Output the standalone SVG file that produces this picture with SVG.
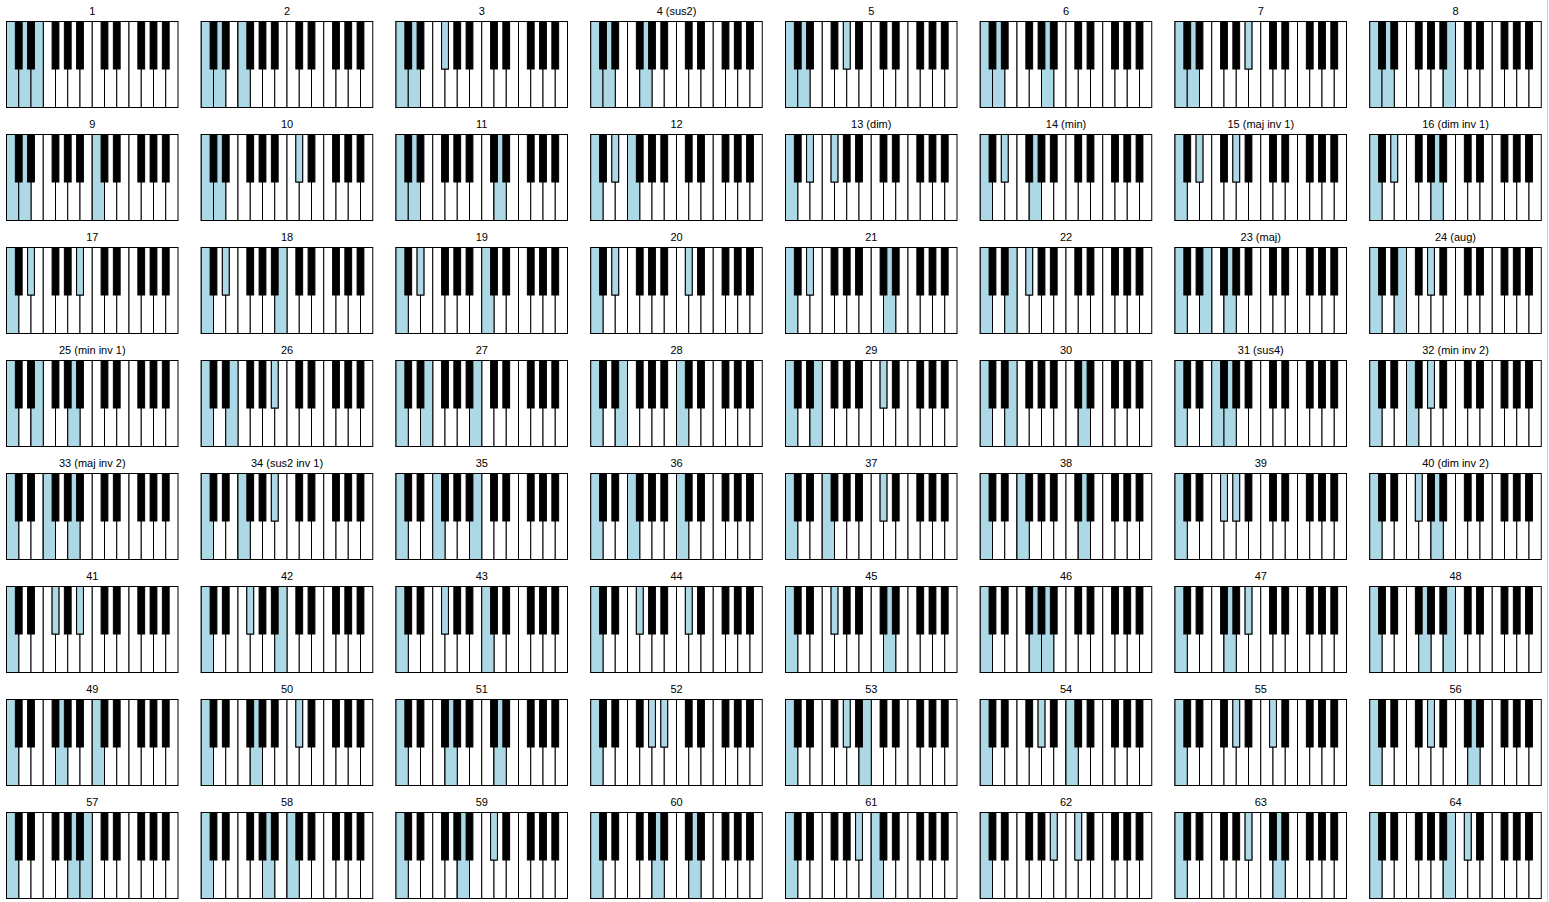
<svg xmlns="http://www.w3.org/2000/svg" xmlns:xlink="http://www.w3.org/1999/xlink" width="1549" height="902" viewBox="0 0 1549 902">
<style>
text{font-family:"Liberation Sans",Arial,sans-serif;font-size:11px;text-anchor:middle;fill:#000}
.w{fill:#fff;stroke:#000;stroke-width:1}
.b{fill:#000;stroke:#000;stroke-width:1}
.hw,.hb{fill:#add8e6;stroke:#000;stroke-width:1}
</style>
<defs>
<g id="wk">
<rect class="w" x="0" y="0" width="12.25" height="86"/><rect class="w" x="12.25" y="0" width="12.25" height="86"/><rect class="w" x="24.5" y="0" width="12.25" height="86"/><rect class="w" x="36.75" y="0" width="12.25" height="86"/><rect class="w" x="49" y="0" width="12.25" height="86"/><rect class="w" x="61.25" y="0" width="12.25" height="86"/><rect class="w" x="73.5" y="0" width="12.25" height="86"/><rect class="w" x="85.75" y="0" width="12.25" height="86"/><rect class="w" x="98" y="0" width="12.25" height="86"/><rect class="w" x="110.25" y="0" width="12.25" height="86"/><rect class="w" x="122.5" y="0" width="12.25" height="86"/><rect class="w" x="134.75" y="0" width="12.25" height="86"/><rect class="w" x="147" y="0" width="12.25" height="86"/><rect class="w" x="159.25" y="0" width="12.25" height="86"/>
</g>
<g id="bk">
<rect class="b" x="8.85" y="0" width="6.8" height="47.5"/><rect class="b" x="21.1" y="0" width="6.8" height="47.5"/><rect class="b" x="45.6" y="0" width="6.8" height="47.5"/><rect class="b" x="57.85" y="0" width="6.8" height="47.5"/><rect class="b" x="70.1" y="0" width="6.8" height="47.5"/><rect class="b" x="94.6" y="0" width="6.8" height="47.5"/><rect class="b" x="106.85" y="0" width="6.8" height="47.5"/><rect class="b" x="131.35" y="0" width="6.8" height="47.5"/><rect class="b" x="143.6" y="0" width="6.8" height="47.5"/><rect class="b" x="155.85" y="0" width="6.8" height="47.5"/>
</g>
<rect id="W" class="hw" x="0" y="0" width="12.25" height="86"/>
<rect id="B" class="hb" x="0" y="0" width="6.8" height="47.5"/>
</defs>
<line x1="1547.5" y1="0" x2="1547.5" y2="902" stroke="#d0d0d0" stroke-width="1"/>

<g id="k1" transform="translate(6.5,21.5)"><text x="85.75" y="-6.5">1</text><use href="#wk"/><use href="#W"/><use href="#W" x="12.25"/><use href="#W" x="24.5"/><use href="#bk"/></g>
<g id="k2" transform="translate(201.25,21.5)"><text x="85.75" y="-6.5">2</text><use href="#wk"/><use href="#W"/><use href="#W" x="12.25"/><use href="#W" x="36.75"/><use href="#bk"/></g>
<g id="k3" transform="translate(396,21.5)"><text x="85.75" y="-6.5">3</text><use href="#wk"/><use href="#W"/><use href="#W" x="12.25"/><use href="#bk"/><use href="#B" x="45.6"/></g>
<g id="k4" transform="translate(590.75,21.5)"><text x="85.75" y="-6.5">4 (sus2)</text><use href="#wk"/><use href="#W"/><use href="#W" x="12.25"/><use href="#W" x="49"/><use href="#bk"/></g>
<g id="k5" transform="translate(785.5,21.5)"><text x="85.75" y="-6.5">5</text><use href="#wk"/><use href="#W"/><use href="#W" x="12.25"/><use href="#bk"/><use href="#B" x="57.85"/></g>
<g id="k6" transform="translate(980.25,21.5)"><text x="85.75" y="-6.5">6</text><use href="#wk"/><use href="#W"/><use href="#W" x="12.25"/><use href="#W" x="61.25"/><use href="#bk"/></g>
<g id="k7" transform="translate(1175,21.5)"><text x="85.75" y="-6.5">7</text><use href="#wk"/><use href="#W"/><use href="#W" x="12.25"/><use href="#bk"/><use href="#B" x="70.1"/></g>
<g id="k8" transform="translate(1369.75,21.5)"><text x="85.75" y="-6.5">8</text><use href="#wk"/><use href="#W"/><use href="#W" x="12.25"/><use href="#W" x="73.5"/><use href="#bk"/></g>

<g id="k9" transform="translate(6.5,134.5)"><text x="85.75" y="-6.5">9</text><use href="#wk"/><use href="#W"/><use href="#W" x="12.25"/><use href="#W" x="85.75"/><use href="#bk"/></g>
<g id="k10" transform="translate(201.25,134.5)"><text x="85.75" y="-6.5">10</text><use href="#wk"/><use href="#W"/><use href="#W" x="12.25"/><use href="#bk"/><use href="#B" x="94.6"/></g>
<g id="k11" transform="translate(396,134.5)"><text x="85.75" y="-6.5">11</text><use href="#wk"/><use href="#W"/><use href="#W" x="12.25"/><use href="#W" x="98"/><use href="#bk"/></g>
<g id="k12" transform="translate(590.75,134.5)"><text x="85.75" y="-6.5">12</text><use href="#wk"/><use href="#W"/><use href="#W" x="36.75"/><use href="#bk"/><use href="#B" x="21.1"/></g>
<g id="k13" transform="translate(785.5,134.5)"><text x="85.75" y="-6.5">13 (dim)</text><use href="#wk"/><use href="#W"/><use href="#bk"/><use href="#B" x="21.1"/><use href="#B" x="45.6"/></g>
<g id="k14" transform="translate(980.25,134.5)"><text x="85.75" y="-6.5">14 (min)</text><use href="#wk"/><use href="#W"/><use href="#W" x="49"/><use href="#bk"/><use href="#B" x="21.1"/></g>
<g id="k15" transform="translate(1175,134.5)"><text x="85.75" y="-6.5">15 (maj inv 1)</text><use href="#wk"/><use href="#W"/><use href="#bk"/><use href="#B" x="21.1"/><use href="#B" x="57.85"/></g>
<g id="k16" transform="translate(1369.75,134.5)"><text x="85.75" y="-6.5">16 (dim inv 1)</text><use href="#wk"/><use href="#W"/><use href="#W" x="61.25"/><use href="#bk"/><use href="#B" x="21.1"/></g>

<g id="k17" transform="translate(6.5,247.5)"><text x="85.75" y="-6.5">17</text><use href="#wk"/><use href="#W"/><use href="#bk"/><use href="#B" x="21.1"/><use href="#B" x="70.1"/></g>
<g id="k18" transform="translate(201.25,247.5)"><text x="85.75" y="-6.5">18</text><use href="#wk"/><use href="#W"/><use href="#W" x="73.5"/><use href="#bk"/><use href="#B" x="21.1"/></g>
<g id="k19" transform="translate(396,247.5)"><text x="85.75" y="-6.5">19</text><use href="#wk"/><use href="#W"/><use href="#W" x="85.75"/><use href="#bk"/><use href="#B" x="21.1"/></g>
<g id="k20" transform="translate(590.75,247.5)"><text x="85.75" y="-6.5">20</text><use href="#wk"/><use href="#W"/><use href="#bk"/><use href="#B" x="21.1"/><use href="#B" x="94.6"/></g>
<g id="k21" transform="translate(785.5,247.5)"><text x="85.75" y="-6.5">21</text><use href="#wk"/><use href="#W"/><use href="#W" x="98"/><use href="#bk"/><use href="#B" x="21.1"/></g>
<g id="k22" transform="translate(980.25,247.5)"><text x="85.75" y="-6.5">22</text><use href="#wk"/><use href="#W"/><use href="#W" x="24.5"/><use href="#bk"/><use href="#B" x="45.6"/></g>
<g id="k23" transform="translate(1175,247.5)"><text x="85.75" y="-6.5">23 (maj)</text><use href="#wk"/><use href="#W"/><use href="#W" x="24.5"/><use href="#W" x="49"/><use href="#bk"/></g>
<g id="k24" transform="translate(1369.75,247.5)"><text x="85.75" y="-6.5">24 (aug)</text><use href="#wk"/><use href="#W"/><use href="#W" x="24.5"/><use href="#bk"/><use href="#B" x="57.85"/></g>

<g id="k25" transform="translate(6.5,360.5)"><text x="85.75" y="-6.5">25 (min inv 1)</text><use href="#wk"/><use href="#W"/><use href="#W" x="24.5"/><use href="#W" x="61.25"/><use href="#bk"/></g>
<g id="k26" transform="translate(201.25,360.5)"><text x="85.75" y="-6.5">26</text><use href="#wk"/><use href="#W"/><use href="#W" x="24.5"/><use href="#bk"/><use href="#B" x="70.1"/></g>
<g id="k27" transform="translate(396,360.5)"><text x="85.75" y="-6.5">27</text><use href="#wk"/><use href="#W"/><use href="#W" x="24.5"/><use href="#W" x="73.5"/><use href="#bk"/></g>
<g id="k28" transform="translate(590.75,360.5)"><text x="85.75" y="-6.5">28</text><use href="#wk"/><use href="#W"/><use href="#W" x="24.5"/><use href="#W" x="85.75"/><use href="#bk"/></g>
<g id="k29" transform="translate(785.5,360.5)"><text x="85.75" y="-6.5">29</text><use href="#wk"/><use href="#W"/><use href="#W" x="24.5"/><use href="#bk"/><use href="#B" x="94.6"/></g>
<g id="k30" transform="translate(980.25,360.5)"><text x="85.75" y="-6.5">30</text><use href="#wk"/><use href="#W"/><use href="#W" x="24.5"/><use href="#W" x="98"/><use href="#bk"/></g>
<g id="k31" transform="translate(1175,360.5)"><text x="85.75" y="-6.5">31 (sus4)</text><use href="#wk"/><use href="#W"/><use href="#W" x="36.75"/><use href="#W" x="49"/><use href="#bk"/></g>
<g id="k32" transform="translate(1369.75,360.5)"><text x="85.75" y="-6.5">32 (min inv 2)</text><use href="#wk"/><use href="#W"/><use href="#W" x="36.75"/><use href="#bk"/><use href="#B" x="57.85"/></g>

<g id="k33" transform="translate(6.5,473.5)"><text x="85.75" y="-6.5">33 (maj inv 2)</text><use href="#wk"/><use href="#W"/><use href="#W" x="36.75"/><use href="#W" x="61.25"/><use href="#bk"/></g>
<g id="k34" transform="translate(201.25,473.5)"><text x="85.75" y="-6.5">34 (sus2 inv 1)</text><use href="#wk"/><use href="#W"/><use href="#W" x="36.75"/><use href="#bk"/><use href="#B" x="70.1"/></g>
<g id="k35" transform="translate(396,473.5)"><text x="85.75" y="-6.5">35</text><use href="#wk"/><use href="#W"/><use href="#W" x="36.75"/><use href="#W" x="73.5"/><use href="#bk"/></g>
<g id="k36" transform="translate(590.75,473.5)"><text x="85.75" y="-6.5">36</text><use href="#wk"/><use href="#W"/><use href="#W" x="36.75"/><use href="#W" x="85.75"/><use href="#bk"/></g>
<g id="k37" transform="translate(785.5,473.5)"><text x="85.75" y="-6.5">37</text><use href="#wk"/><use href="#W"/><use href="#W" x="36.75"/><use href="#bk"/><use href="#B" x="94.6"/></g>
<g id="k38" transform="translate(980.25,473.5)"><text x="85.75" y="-6.5">38</text><use href="#wk"/><use href="#W"/><use href="#W" x="36.75"/><use href="#W" x="98"/><use href="#bk"/></g>
<g id="k39" transform="translate(1175,473.5)"><text x="85.75" y="-6.5">39</text><use href="#wk"/><use href="#W"/><use href="#bk"/><use href="#B" x="45.6"/><use href="#B" x="57.85"/></g>
<g id="k40" transform="translate(1369.75,473.5)"><text x="85.75" y="-6.5">40 (dim inv 2)</text><use href="#wk"/><use href="#W"/><use href="#W" x="61.25"/><use href="#bk"/><use href="#B" x="45.6"/></g>

<g id="k41" transform="translate(6.5,586.5)"><text x="85.75" y="-6.5">41</text><use href="#wk"/><use href="#W"/><use href="#bk"/><use href="#B" x="45.6"/><use href="#B" x="70.1"/></g>
<g id="k42" transform="translate(201.25,586.5)"><text x="85.75" y="-6.5">42</text><use href="#wk"/><use href="#W"/><use href="#W" x="73.5"/><use href="#bk"/><use href="#B" x="45.6"/></g>
<g id="k43" transform="translate(396,586.5)"><text x="85.75" y="-6.5">43</text><use href="#wk"/><use href="#W"/><use href="#W" x="85.75"/><use href="#bk"/><use href="#B" x="45.6"/></g>
<g id="k44" transform="translate(590.75,586.5)"><text x="85.75" y="-6.5">44</text><use href="#wk"/><use href="#W"/><use href="#bk"/><use href="#B" x="45.6"/><use href="#B" x="94.6"/></g>
<g id="k45" transform="translate(785.5,586.5)"><text x="85.75" y="-6.5">45</text><use href="#wk"/><use href="#W"/><use href="#W" x="98"/><use href="#bk"/><use href="#B" x="45.6"/></g>
<g id="k46" transform="translate(980.25,586.5)"><text x="85.75" y="-6.5">46</text><use href="#wk"/><use href="#W"/><use href="#W" x="49"/><use href="#W" x="61.25"/><use href="#bk"/></g>
<g id="k47" transform="translate(1175,586.5)"><text x="85.75" y="-6.5">47</text><use href="#wk"/><use href="#W"/><use href="#W" x="49"/><use href="#bk"/><use href="#B" x="70.1"/></g>
<g id="k48" transform="translate(1369.75,586.5)"><text x="85.75" y="-6.5">48</text><use href="#wk"/><use href="#W"/><use href="#W" x="49"/><use href="#W" x="73.5"/><use href="#bk"/></g>

<g id="k49" transform="translate(6.5,699.5)"><text x="85.75" y="-6.5">49</text><use href="#wk"/><use href="#W"/><use href="#W" x="49"/><use href="#W" x="85.75"/><use href="#bk"/></g>
<g id="k50" transform="translate(201.25,699.5)"><text x="85.75" y="-6.5">50</text><use href="#wk"/><use href="#W"/><use href="#W" x="49"/><use href="#bk"/><use href="#B" x="94.6"/></g>
<g id="k51" transform="translate(396,699.5)"><text x="85.75" y="-6.5">51</text><use href="#wk"/><use href="#W"/><use href="#W" x="49"/><use href="#W" x="98"/><use href="#bk"/></g>
<g id="k52" transform="translate(590.75,699.5)"><text x="85.75" y="-6.5">52</text><use href="#wk"/><use href="#W"/><use href="#bk"/><use href="#B" x="57.85"/><use href="#B" x="70.1"/></g>
<g id="k53" transform="translate(785.5,699.5)"><text x="85.75" y="-6.5">53</text><use href="#wk"/><use href="#W"/><use href="#W" x="73.5"/><use href="#bk"/><use href="#B" x="57.85"/></g>
<g id="k54" transform="translate(980.25,699.5)"><text x="85.75" y="-6.5">54</text><use href="#wk"/><use href="#W"/><use href="#W" x="85.75"/><use href="#bk"/><use href="#B" x="57.85"/></g>
<g id="k55" transform="translate(1175,699.5)"><text x="85.75" y="-6.5">55</text><use href="#wk"/><use href="#W"/><use href="#bk"/><use href="#B" x="57.85"/><use href="#B" x="94.6"/></g>
<g id="k56" transform="translate(1369.75,699.5)"><text x="85.75" y="-6.5">56</text><use href="#wk"/><use href="#W"/><use href="#W" x="98"/><use href="#bk"/><use href="#B" x="57.85"/></g>

<g id="k57" transform="translate(6.5,812.5)"><text x="85.75" y="-6.5">57</text><use href="#wk"/><use href="#W"/><use href="#W" x="61.25"/><use href="#W" x="73.5"/><use href="#bk"/></g>
<g id="k58" transform="translate(201.25,812.5)"><text x="85.75" y="-6.5">58</text><use href="#wk"/><use href="#W"/><use href="#W" x="61.25"/><use href="#W" x="85.75"/><use href="#bk"/></g>
<g id="k59" transform="translate(396,812.5)"><text x="85.75" y="-6.5">59</text><use href="#wk"/><use href="#W"/><use href="#W" x="61.25"/><use href="#bk"/><use href="#B" x="94.6"/></g>
<g id="k60" transform="translate(590.75,812.5)"><text x="85.75" y="-6.5">60</text><use href="#wk"/><use href="#W"/><use href="#W" x="61.25"/><use href="#W" x="98"/><use href="#bk"/></g>
<g id="k61" transform="translate(785.5,812.5)"><text x="85.75" y="-6.5">61</text><use href="#wk"/><use href="#W"/><use href="#W" x="85.75"/><use href="#bk"/><use href="#B" x="70.1"/></g>
<g id="k62" transform="translate(980.25,812.5)"><text x="85.75" y="-6.5">62</text><use href="#wk"/><use href="#W"/><use href="#bk"/><use href="#B" x="70.1"/><use href="#B" x="94.6"/></g>
<g id="k63" transform="translate(1175,812.5)"><text x="85.75" y="-6.5">63</text><use href="#wk"/><use href="#W"/><use href="#W" x="98"/><use href="#bk"/><use href="#B" x="70.1"/></g>
<g id="k64" transform="translate(1369.75,812.5)"><text x="85.75" y="-6.5">64</text><use href="#wk"/><use href="#W"/><use href="#W" x="73.5"/><use href="#bk"/><use href="#B" x="94.6"/></g>
</svg>
